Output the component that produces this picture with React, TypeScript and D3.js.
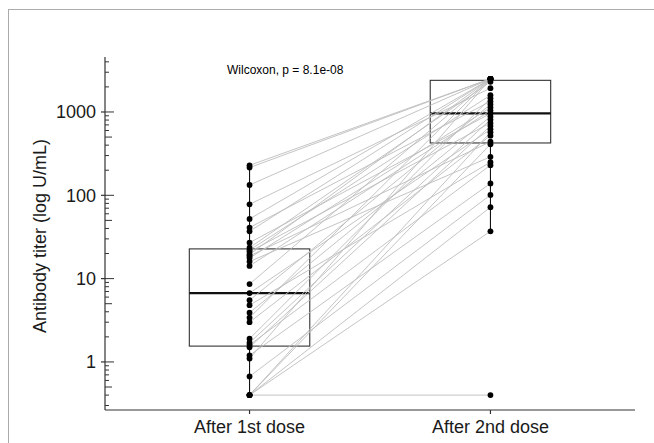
import { useEffect, useRef } from "react";
import * as d3 from "d3";

const groups = ["After 1st dose", "After 2nd dose"];

// one value per subject, same order in both arrays (paired)
const firstDose = [
  229, 215, 133, 78, 52, 41, 37, 27, 23.5, 22, 21, 19.5, 18.7, 17.7, 16, 14.2, 8.6,
  6.7, 5.5, 4.8, 3.9, 3.4, 3.0, 1.9, 1.7, 1.6, 1.5, 1.2, 1.1, 0.67, 0.4, 0.4, 0.4, 0.4, 0.4,
];
const secondDose = [
  2500, 2500, 2500, 1930, 2500, 1340, 2500, 960, 2300, 1590, 740, 2500, 440, 1130, 290, 1040, 2500,
  620, 1230, 250, 880, 2500, 520, 1460, 810, 230, 680, 139, 2500, 101, 570, 72, 410, 37, 0.4,
];

const majorTicks = [1, 10, 100, 1000];
const testLabel = "Wilcoxon, p = 8.1e-08";
const yTitle = "Antibody titer (log U/mL)";

const font = "Liberation Sans, Arial, sans-serif";

export default function App() {
  const ref = useRef<SVGSVGElement>(null);

  useEffect(() => {
    const width = 654;
    const height = 443;
    const svg = d3.select(ref.current).attr("width", width).attr("height", height);
    svg.selectAll("*").remove();

    const left = 105, right = 635, top = 57, bottom = 410;

    const x = d3.scalePoint<string>().domain(groups).range([left, right]).padding(0.6);
    const y = d3.scaleLog().domain([0.265, 4570]).range([bottom, top]);
    const boxW = x.step() * 0.5;

    // outer frame
    svg.append("rect")
      .attr("x", 8.5).attr("y", 9.5)
      .attr("width", width).attr("height", height)
      .attr("fill", "none").attr("stroke", "#ababab").attr("stroke-width", 1);

    const series = [firstDose, secondDose];

    // boxes (stats on log scale, whiskers 1.5 IQR)
    series.forEach((vals, i) => {
      const cx = x(groups[i])!;
      const logs = vals.map(Math.log10).sort(d3.ascending);
      const q1 = d3.quantile(logs, 0.25)!;
      const med = d3.quantile(logs, 0.5)!;
      const q3 = d3.quantile(logs, 0.75)!;
      const iqr = q3 - q1;
      const lo = d3.min(logs.filter(v => v >= q1 - 1.5 * iqr))!;
      const hi = d3.max(logs.filter(v => v <= q3 + 1.5 * iqr))!;
      const g = svg.append("g");
      g.append("rect")
        .attr("x", cx - boxW / 2).attr("y", y(10 ** q3))
        .attr("width", boxW).attr("height", y(10 ** q1) - y(10 ** q3))
        .attr("fill", "white").attr("stroke", "#333").attr("stroke-width", 1.1);
      g.append("line")
        .attr("x1", cx - boxW / 2).attr("x2", cx + boxW / 2)
        .attr("y1", y(10 ** med)).attr("y2", y(10 ** med))
        .attr("stroke", "#111").attr("stroke-width", 2.2);
      g.append("line")
        .attr("x1", cx).attr("x2", cx)
        .attr("y1", y(10 ** q3)).attr("y2", y(10 ** hi))
        .attr("stroke", "#111").attr("stroke-width", 1.1);
      g.append("line")
        .attr("x1", cx).attr("x2", cx)
        .attr("y1", y(10 ** q1)).attr("y2", y(10 ** lo))
        .attr("stroke", "#111").attr("stroke-width", 1.1);
    });

    // paired lines
    svg.append("g")
      .selectAll("line")
      .data(firstDose.map((v, i) => [v, secondDose[i]]))
      .join("line")
      .attr("x1", x(groups[0])!).attr("x2", x(groups[1])!)
      .attr("y1", d => y(d[0])).attr("y2", d => y(d[1]))
      .attr("stroke", "#bdbdbd").attr("stroke-width", 0.9);

    // points
    series.forEach((vals, i) => {
      svg.append("g")
        .selectAll("circle")
        .data(vals)
        .join("circle")
        .attr("cx", x(groups[i])!)
        .attr("cy", d => y(d))
        .attr("r", 2.9)
        .attr("fill", "black");
    });

    // y axis
    const ax = svg.append("g");
    ax.append("line")
      .attr("x1", left).attr("x2", left).attr("y1", top).attr("y2", bottom)
      .attr("stroke", "#333").attr("stroke-width", 1.2);
    const logTicks: number[] = [];
    for (let e = -1; e <= 3; e++) {
      for (let m = 1; m <= 9; m++) {
        const v = m * 10 ** e;
        if (v >= y.domain()[0] && v <= y.domain()[1]) logTicks.push(v);
      }
    }
    ax.selectAll("line.lt")
      .data(logTicks)
      .join("line")
      .attr("class", "lt")
      .attr("x1", left)
      .attr("x2", d => {
        const m = Math.round(d / 10 ** Math.floor(Math.log10(d) + 1e-9));
        return left + (m === 1 ? 9 : m === 5 ? 7 : 4);
      })
      .attr("y1", d => y(d)).attr("y2", d => y(d))
      .attr("stroke", "#333").attr("stroke-width", 1);
    ax.selectAll("line.mj")
      .data(majorTicks)
      .join("line")
      .attr("class", "mj")
      .attr("x1", left - 4).attr("x2", left)
      .attr("y1", d => y(d)).attr("y2", d => y(d))
      .attr("stroke", "#333").attr("stroke-width", 1.2);
    ax.selectAll("text")
      .data(majorTicks)
      .join("text")
      .attr("x", left - 9)
      .attr("y", d => y(d))
      .attr("dy", "0.35em")
      .attr("text-anchor", "end")
      .attr("font-family", font)
      .attr("font-size", 18)
      .attr("fill", "#1a1a1a")
      .text(d => String(d));

    // x axis
    const bx = svg.append("g");
    bx.append("line")
      .attr("x1", left).attr("x2", right).attr("y1", bottom).attr("y2", bottom)
      .attr("stroke", "#333").attr("stroke-width", 1.2);
    bx.selectAll("line.t")
      .data(groups)
      .join("line")
      .attr("class", "t")
      .attr("x1", d => x(d)!).attr("x2", d => x(d)!)
      .attr("y1", bottom).attr("y2", bottom + 4)
      .attr("stroke", "#333").attr("stroke-width", 1.2);
    bx.selectAll("text")
      .data(groups)
      .join("text")
      .attr("x", d => x(d)!)
      .attr("y", 433)
      .attr("text-anchor", "middle")
      .attr("font-family", font)
      .attr("font-size", 18)
      .attr("fill", "#1a1a1a")
      .text(d => d);

    // y title
    svg.append("text")
      .attr("transform", `translate(46,236) rotate(-90)`)
      .attr("text-anchor", "middle")
      .attr("font-family", font)
      .attr("font-size", 18)
      .attr("fill", "#1a1a1a")
      .text(yTitle);

    // test label
    svg.append("text")
      .attr("x", 227).attr("y", 74)
      .attr("font-family", font)
      .attr("font-size", 12)
      .attr("fill", "black")
      .text(testLabel);
  }, []);

  return <svg ref={ref} style={{ position: "absolute", left: 0, top: 0, display: "block" }} />;
}
